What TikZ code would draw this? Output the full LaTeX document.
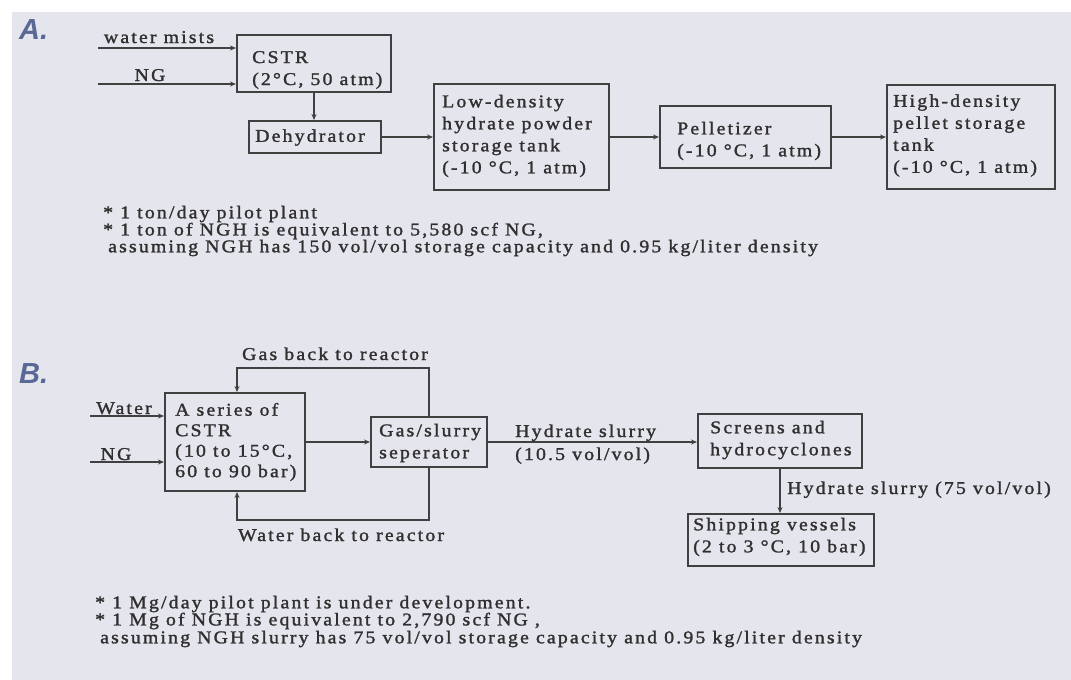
\documentclass[tikz,border=0pt]{standalone}
\usepackage{fontspec}
\setmainfont{Liberation Serif}
\newfontfamily\dfont[FakeStretch=1.1,LetterSpace=12,FakeBold=1.5]{Liberation Serif}
\newfontfamily\hfont{Liberation Sans}
\usetikzlibrary{arrows.meta}
\definecolor{bgc}{HTML}{E5E5ED}
\definecolor{linec}{HTML}{404040}
\definecolor{txtc}{HTML}{303030}
\definecolor{labc}{HTML}{5A6896}
\tikzset{
  box/.style={draw=linec, line width=2pt, inner sep=0pt},
  txt/.style={font=\dfont\fontsize{18}{22}\selectfont, text=txtc, inner sep=0pt, align=left},
  note/.style={txt, anchor=west},
  flow/.style={draw=linec, line width=2pt, -{Stealth[length=6pt,width=5pt]}},
  sect/.style={font=\hfont\bfseries\itshape\fontsize{29}{29}\selectfont, text=labc, inner sep=0pt, anchor=west}
}
\begin{document}
\begin{tikzpicture}[x=1pt,y=-1pt]
\fill[white] (0,0) rectangle (1071,680);
\fill[bgc] (12,12) rectangle (1071,680);
\useasboundingbox (0,0) rectangle (1071,680);

% ---------- A ----------
\node[sect] (labA) at (19,30) {A.};
\node[box, minimum width=154pt, minimum height=57pt] (cstrA) at (314,63.5) {};
\node[txt, anchor=west] (cstrAt) at (252,70) {CSTR\\(2°C, 50 atm)};
\node[box, minimum width=132pt, minimum height=32pt] (dehyd) at (315,137) {};
\node[txt, anchor=west] (dehydt) at (255,137.5) {Dehydrator};
\node[box, minimum width=175pt, minimum height=106pt] (lowd) at (521.5,137) {};
\node[txt, anchor=west] (lowdt) at (442,136) {Low-density\\hydrate powder\\storage tank\\(-10 °C, 1 atm)};
\node[box, minimum width=171pt, minimum height=62pt] (pellet) at (745.5,137) {};
\node[txt, anchor=west] (pellett) at (677,141) {Pelletizer\\(-10 °C, 1 atm)};
\node[box, minimum width=168pt, minimum height=104pt] (highd) at (971,137) {};
\node[txt, anchor=west] (highdt) at (893,135.5) {High-density\\pellet storage\\tank\\(-10 °C, 1 atm)};

\coordinate (wmS) at (98,48);
\coordinate (ngS) at (98,84);
\draw[flow] (wmS) -- (wmS -| cstrA.west);
\draw[flow] (ngS) -- (ngS -| cstrA.west);
\node[txt, anchor=base] (wmt) at (159,43) {water mists};
\node[txt, anchor=base] (ngAt) at (150,81) {NG};
\draw[flow] (cstrA.south) -- (cstrA.south |- dehyd.north);
\draw[flow] (dehyd.east) -- (dehyd.east -| lowd.west);
\draw[flow] (lowd.east) -- (lowd.east -| pellet.west);
\draw[flow] (pellet.east) -- (pellet.east -| highd.west);

\node[note] (fa1) at (103,214) {* 1 ton/day pilot plant};
\node[note] (fa2) at (103,231) {* 1 ton of NGH is equivalent to 5,580 scf NG,};
\node[note] (fa3) at (108,248) {assuming NGH has 150 vol/vol storage capacity and 0.95 kg/liter density};

% ---------- B ----------
\node[sect] (labB) at (19,374) {B.};
\node[box, minimum width=140pt, minimum height=98pt] (cstrB) at (235,442) {};
\node[txt, anchor=west, font=\dfont\fontsize{18}{20.5}\selectfont] (cstrBt) at (175,442) {A series of\\CSTR\\(10 to 15°C,\\60 to 90 bar)};
\node[box, minimum width=116pt, minimum height=50pt] (sep) at (429,442) {};
\node[txt, anchor=west] (sept) at (379,443) {Gas/slurry\\seperator};
\node[box, minimum width=164pt, minimum height=54pt] (screens) at (780,441) {};
\node[txt, anchor=west] (screenst) at (710,440) {Screens and\\hydrocyclones};
\node[box, minimum width=186pt, minimum height=52pt] (ship) at (781,540) {};
\node[txt, anchor=west] (shipt) at (693,537) {Shipping vessels\\(2 to 3 °C, 10 bar)};

\coordinate (waS) at (90,416);
\coordinate (ngBS) at (90,462);
\draw[flow] (waS) -- (waS -| cstrB.west);
\draw[flow] (ngBS) -- (ngBS -| cstrB.west);
\node[txt, anchor=base] (watB) at (124,414) {Water};
\node[txt, anchor=base] (ngBt) at (116,460) {NG};

\coordinate (gt) at (237,368);
\coordinate (gb) at (237,520);
\draw[flow] (sep.north) |- (gt) -- (gt |- cstrB.north);
\draw[flow] (sep.south) |- (gb) -- (gb |- cstrB.south);
\node[txt, anchor=base] (gast) at (335,360) {Gas back to reactor};
\node[txt, anchor=base] (watt) at (341,541) {Water back to reactor};

\draw[flow] (cstrB.east) -- (sep.west);
\draw[flow] (sep.east) -- (sep.east -| screens.west);
\node[txt, anchor=base west] (hs1) at (515,437) {Hydrate slurry};
\node[txt, anchor=base west] (hs2) at (515,460) {(10.5 vol/vol)};
\draw[flow] (screens.south) -- (screens.south |- ship.north);
\node[txt, anchor=base west] (hs3) at (787,494) {Hydrate slurry (75 vol/vol)};

\node[note] (fb1) at (95,604) {* 1 Mg/day pilot plant is under development.};
\node[note] (fb2) at (95,621) {* 1 Mg of NGH is equivalent to 2,790 scf NG ,};
\node[note] (fb3) at (100,639) {assuming NGH slurry has 75 vol/vol storage capacity and 0.95 kg/liter density};
\end{tikzpicture}
\end{document}
